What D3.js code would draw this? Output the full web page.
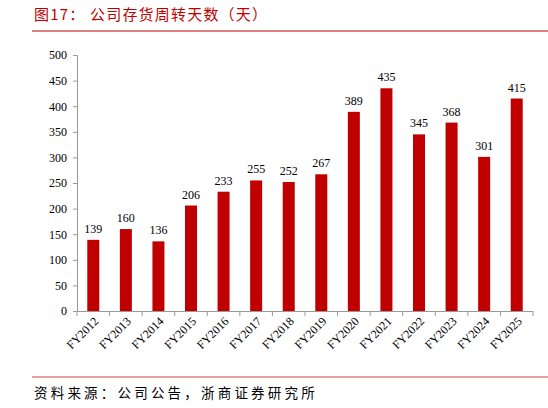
<!DOCTYPE html><html><head><meta charset="utf-8"><script src="https://cdn.jsdelivr.net/npm/d3@7"></script>
<style>body{margin:0;background:#fff}</style></head><body><svg id="c" width="548" height="408"></svg>
<script>
const categories=["FY2012","FY2013","FY2014","FY2015","FY2016","FY2017","FY2018","FY2019","FY2020","FY2021","FY2022","FY2023","FY2024","FY2025"];
const values=[139,160,136,206,233,255,252,267,389,435,345,368,301,415];
const yTicks=[0,50,100,150,200,250,300,350,400,450,500];
const svg=d3.select("#c");
const red="#c00000";
svg.append("text").attr("x",34).attr("y",20).attr("fill",red).attr("font-family","Noto Sans CJK SC").attr("font-size",15).attr("letter-spacing",1.2).text("图17：  公司存货周转天数（天）");
svg.append("line").attr("x1",32).attr("x2",548).attr("y1",31).attr("y2",31).attr("stroke",red).attr("stroke-width",1);
svg.append("line").attr("x1",32).attr("x2",548).attr("y1",377).attr("y2",377).attr("stroke","#d04040").attr("stroke-width",1);
svg.append("text").attr("x",34).attr("y",398).attr("fill","#000").attr("font-family","Noto Sans CJK SC").attr("font-size",13.5).attr("letter-spacing",3.2).text("资料来源：公司公告，浙商证券研究所");
const x=d3.scaleBand().domain(categories).range([77,533]);
const y=d3.scaleLinear().domain([0,500]).range([311,55]);
const g=svg.append("g");
g.selectAll("rect").data(values).join("rect").attr("x",(d,i)=>x(categories[i])+x.bandwidth()/2-6).attr("width",12)
 .attr("y",d=>y(d)).attr("height",d=>y(0)-y(d)).attr("fill",red);
g.selectAll(".lbl").data(values).join("text").attr("x",(d,i)=>x(categories[i])+x.bandwidth()/2).attr("y",d=>y(d)-7)
 .attr("text-anchor","middle").attr("font-family","Liberation Serif").attr("font-size",12).text(d=>d);
const ya=svg.append("g").attr("transform","translate(77,0)").call(d3.axisLeft(y).tickValues(yTicks).tickSize(4).tickPadding(6));
ya.selectAll("text").attr("font-family","Liberation Serif").attr("font-size",12).attr("fill","#000");
ya.select(".domain").attr("stroke","#999").attr("d","M-4,55.5H0.5V311.5");
ya.selectAll("line").attr("stroke","#999");
svg.append("line").attr("x1",77).attr("x2",533).attr("y1",311.5).attr("y2",311.5).attr("stroke","#999");
svg.selectAll(".xt").data(d3.range(categories.length+1)).join("line").attr("x1",i=>77+i*x.step()).attr("x2",i=>77+i*x.step())
 .attr("y1",311).attr("y2",316).attr("stroke","#999");
svg.selectAll(".xl").data(categories).join("text").attr("transform",d=>`translate(${x(d)+x.bandwidth()/2+6},${322}) rotate(-45)`)
 .attr("text-anchor","end").attr("font-family","Liberation Serif").attr("font-size",12).text(d=>d);
</script></body></html>
